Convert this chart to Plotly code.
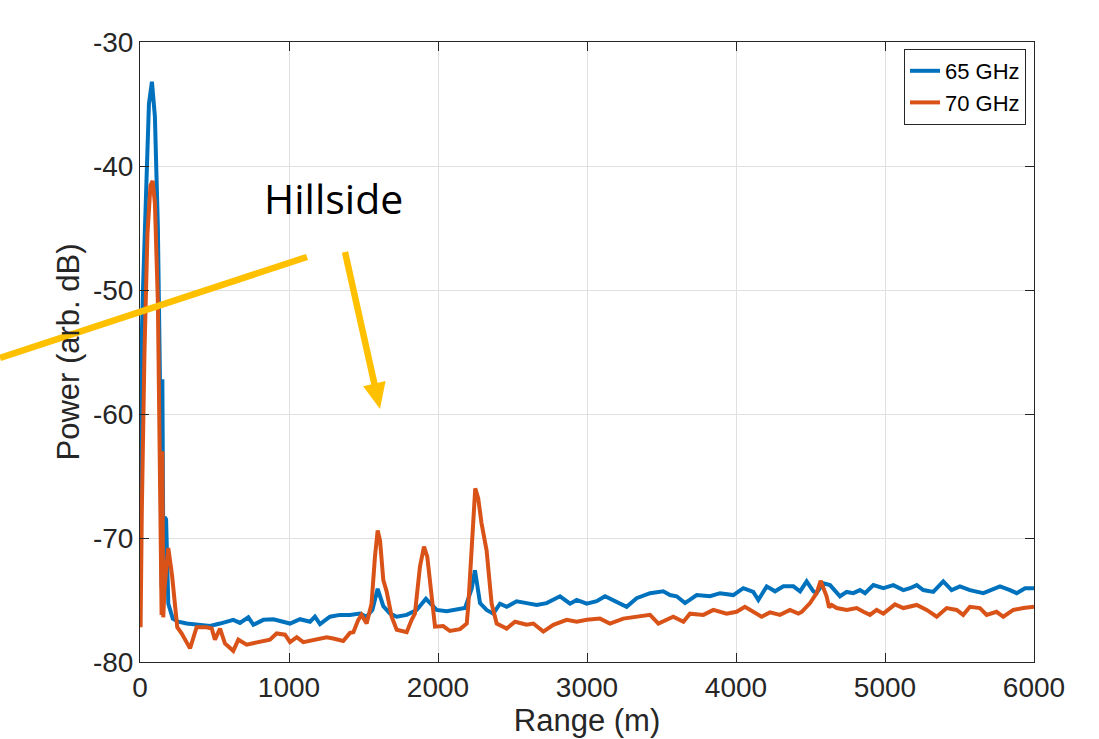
import plotly.graph_objects as go

# ---------------- data ----------------
range_65 = [0, 4, 20, 40, 60, 80, 100, 120, 135, 145, 150, 157, 165, 175, 190, 220, 257, 313, 380,
            470, 537, 626, 671, 727, 761, 828, 895, 951, 1007, 1074, 1141, 1174, 1208, 1275, 1342,
            1409, 1476, 1521, 1560, 1595, 1633, 1678, 1723, 1790, 1857, 1919, 1946, 1991, 2058, 2125,
            2181, 2226, 2248, 2282, 2326, 2371, 2416, 2461, 2528, 2595, 2662, 2729, 2819, 2886, 2931,
            2998, 3065, 3121, 3177, 3266, 3333, 3423, 3512, 3557, 3602, 3658, 3736, 3826, 3893, 3982,
            4049, 4116, 4150, 4206, 4262, 4318, 4385, 4430, 4474, 4519, 4540, 4586, 4631, 4664, 4698,
            4743, 4787, 4832, 4866, 4922, 4989, 5056, 5123, 5168, 5213, 5257, 5324, 5391, 5447, 5503,
            5570, 5660, 5705, 5772, 5839, 5884, 5940, 6000]
power_65 = [-70.0, -57.7, -50.0, -41.0, -35.0, -33.2, -36.0, -45.0, -58.0, -74.0, -57.2, -72.0, -68.3,
            -68.5, -75.3, -76.5, -76.75, -76.9, -77.0, -77.1, -76.9, -76.6, -76.85, -76.4, -77.0,
            -76.6, -76.55, -76.75, -76.9, -76.55, -76.75, -76.35, -76.95, -76.35, -76.2, -76.2,
            -76.1, -76.35, -75.8, -74.1, -75.5, -76.1, -76.35, -76.2, -75.8, -74.9, -75.25, -75.8,
            -75.9, -75.8, -75.65, -74.1, -72.6, -75.25, -75.8, -76.1, -75.3, -75.55, -75.1, -75.25,
            -75.4, -75.25, -74.7, -75.3, -75.0, -75.3, -75.1, -74.7, -75.0, -75.55, -74.85, -74.45,
            -74.3, -74.6, -74.7, -75.25, -74.6, -74.7, -74.45, -74.6, -74.05, -74.35, -75.0, -73.9,
            -74.3, -73.9, -73.9, -74.3, -73.5, -74.3, -74.45, -73.65, -73.8, -74.2, -74.7, -74.35,
            -74.45, -74.2, -74.45, -73.8, -74.05, -73.8, -74.2, -74.05, -73.8, -74.2, -74.35, -73.5,
            -74.2, -73.9, -74.2, -74.45, -74.2, -73.9, -74.2, -74.45, -74.05, -74.05]

range_70 = [0, 4, 12, 30, 50, 70, 85, 100, 120, 138, 145, 150, 156, 165, 190, 215, 250, 280, 336,
            380, 447, 481, 503, 537, 570, 626, 660, 716, 805, 872, 917, 973, 1007, 1052, 1096, 1186,
            1253, 1297, 1364, 1409, 1432, 1465, 1487, 1521, 1554, 1577, 1595, 1611, 1633, 1655, 1689,
            1723, 1790, 1823, 1845, 1879, 1906, 1928, 1957, 1980, 2035, 2080, 2148, 2193, 2203, 2226,
            2250, 2270, 2292, 2326, 2360, 2394, 2461, 2517, 2595, 2640, 2707, 2774, 2864, 2931, 2998,
            3087, 3154, 3244, 3333, 3423, 3479, 3534, 3579, 3647, 3691, 3781, 3848, 3937, 4004, 4060,
            4116, 4172, 4228, 4295, 4362, 4418, 4441, 4497, 4541, 4568, 4608, 4625, 4642, 4676, 4743,
            4810, 4855, 4899, 4944, 4989, 5067, 5123, 5213, 5280, 5347, 5414, 5481, 5525, 5570, 5637,
            5682, 5749, 5794, 5861, 5929, 6000]
power_70 = [-75.0, -77.2, -68.0, -55.0, -45.5, -41.6, -41.2, -43.0, -51.0, -68.0, -76.2, -63.0, -76.4,
            -74.0, -70.8, -73.0, -77.2, -77.7, -78.9, -77.2, -77.2, -77.3, -78.2, -77.3, -78.5, -79.1,
            -78.2, -78.6, -78.4, -78.2, -77.7, -77.8, -78.4, -78.0, -78.4, -78.2, -78.0, -78.1, -78.3,
            -77.65, -77.6, -76.6, -76.2, -76.9, -75.3, -71.5, -69.4, -70.2, -73.4, -74.3, -76.35,
            -77.4, -77.6, -76.6, -76.1, -72.3, -70.7, -71.5, -75.0, -77.15, -77.1, -77.5, -77.35,
            -76.9, -75.5, -70.2, -66.0, -66.8, -68.8, -71.0, -75.3, -76.9, -77.3, -76.75, -77.0,
            -76.9, -77.55, -77.0, -76.6, -76.75, -76.6, -76.5, -76.9, -76.5, -76.35, -76.2, -76.9,
            -76.6, -76.35, -76.75, -76.1, -76.2, -75.8, -76.1, -75.95, -75.55, -75.95, -76.35, -76.0,
            -76.2, -75.8, -76.1, -75.95, -75.25, -74.45, -73.45, -74.7, -75.6, -75.4, -75.65, -75.8,
            -75.65, -75.95, -76.2, -75.8, -76.1, -75.35, -75.65, -75.4, -75.8, -76.35, -75.65, -75.8,
            -76.2, -75.55, -75.65, -76.2, -75.95, -76.35, -75.8, -75.65, -75.55]

series_names = ["65 GHz", "70 GHz"]
series_colors = ["#0072BD", "#D95319"]
x_ticks = [0, 1000, 2000, 3000, 4000, 5000, 6000]
y_ticks = [-80, -70, -60, -50, -40, -30]

# ---------------- layout geometry ----------------
W, H = 1099, 739
ML, MR, MT, MB = 140, 65, 42, 77
PW, PH = W - ML - MR, H - MT - MB


def paper(px, py):
    """pixel position on the page -> paper coordinates"""
    return (px - ML) / PW, 1 - (py - MT) / PH


FONT = "Liberation Sans, Arial, Helvetica, sans-serif"
INK = "#262626"
GOLD = "#FFC000"

fig = go.Figure()
for xs, ys, name, col in [(range_65, power_65, series_names[0], series_colors[0]),
                          (range_70, power_70, series_names[1], series_colors[1])]:
    fig.add_trace(go.Scatter(x=xs, y=ys, mode="lines", name=name,
                             line=dict(color=col, width=4)))

axis_common = dict(showline=True, linecolor=INK, linewidth=1, mirror="ticks",
                   ticks="inside", ticklen=9, tickcolor=INK, showgrid=True,
                   gridcolor="#e0e0e0", gridwidth=1, zeroline=False,
                   tickfont=dict(family=FONT, size=28, color=INK))

fig.update_xaxes(range=[0, 6000], tickvals=x_ticks, ticktext=[str(v) for v in x_ticks],
                 title=dict(text="Range (m)", font=dict(family=FONT, size=31, color=INK), standoff=4),
                 **axis_common)
fig.update_yaxes(range=[-80, -30], tickvals=y_ticks, ticktext=[str(v) for v in y_ticks],
                 title=dict(text="Power (arb. dB)", font=dict(family=FONT, size=31, color=INK), standoff=4),
                 **axis_common)

lx, ly = paper(1026, 49)
fig.update_layout(
    width=W, height=H,
    margin=dict(l=ML, r=MR, t=MT, b=MB),
    paper_bgcolor="white", plot_bgcolor="white",
    legend=dict(x=lx, y=ly, xanchor="right", yanchor="top",
                bgcolor="white", bordercolor=INK, borderwidth=1,
                font=dict(family=FONT, size=22, color="black"),
                itemwidth=30, tracegroupgap=0),
    showlegend=True,
)

# "Hillside" callout text
tx, ty = paper(262, 198)
fig.add_annotation(x=tx, y=ty, xref="paper", yref="paper", text="Hillside",
                   showarrow=False, xanchor="left", yanchor="middle",
                   font=dict(family="Open Sans, Lato, sans-serif", size=41, color="black"))

# callout line 1 (runs off to the left)
x0, y0 = paper(0, 358)
x1, y1 = paper(307, 257)
fig.add_shape(type="line", xref="paper", yref="paper", x0=x0, y0=y0, x1=x1, y1=y1,
              line=dict(color=GOLD, width=6.5), layer="above")

# callout arrow 2
sx, sy = 345, 252
tipx, tipy = 380, 409
dx, dy = tipx - sx, tipy - sy
L = (dx ** 2 + dy ** 2) ** 0.5
ux, uy = dx / L, dy / L
head_len, head_half = 26, 11.5
bx, by = tipx - head_len * ux, tipy - head_len * uy
nx, ny = uy, -ux
ax0, ay0 = paper(sx, sy)
ax1, ay1 = paper(bx + 3 * ux, by + 3 * uy)
fig.add_shape(type="line", xref="paper", yref="paper", x0=ax0, y0=ay0, x1=ax1, y1=ay1,
              line=dict(color=GOLD, width=6.5), layer="above")
p1 = paper(tipx, tipy)
p2 = paper(bx + head_half * nx, by + head_half * ny)
p3 = paper(bx - head_half * nx, by - head_half * ny)
fig.add_shape(type="path", xref="paper", yref="paper",
              path=f"M {p1[0]} {p1[1]} L {p2[0]} {p2[1]} L {p3[0]} {p3[1]} Z",
              fillcolor=GOLD, line=dict(color=GOLD, width=0), layer="above")

fig.write_html("out.html")
